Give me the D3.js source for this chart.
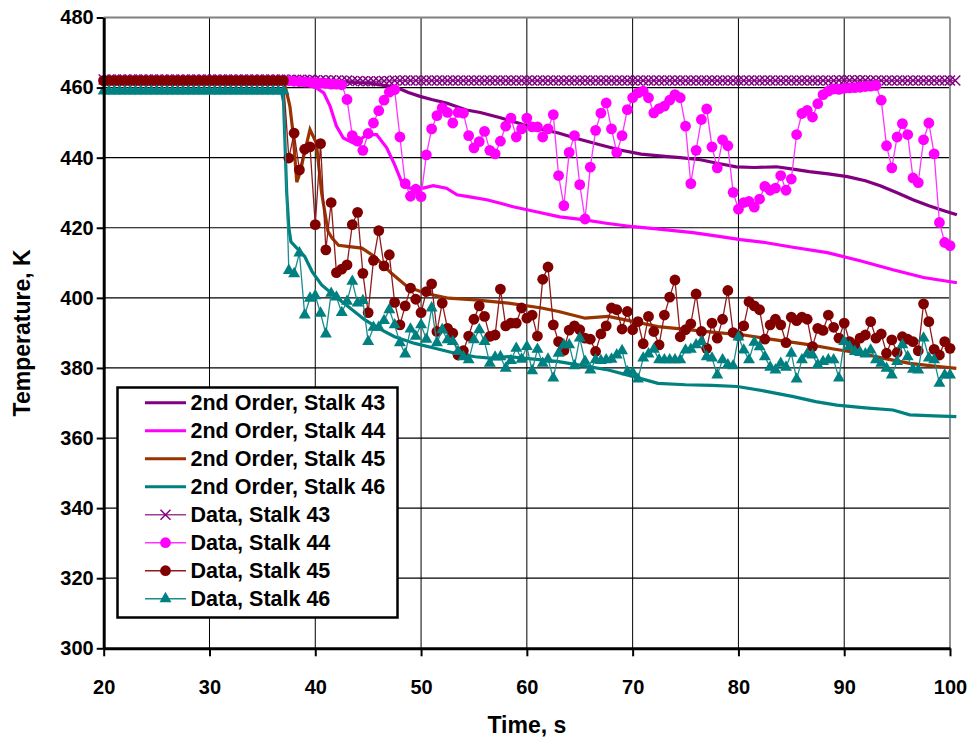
<!DOCTYPE html>
<html>
<head>
<meta charset="utf-8">
<script src="https://cdn.jsdelivr.net/npm/d3@7"></script>
<style>
  body { margin: 0; background: #fff; }
  text { font-family: "Liberation Sans", Arial, sans-serif; font-weight: bold; }
</style>
</head>
<body>
<div id="chart"></div>
<script>
// ---- data ----
const timeTicks = [20, 30, 40, 50, 60, 70, 80, 90, 100];
const tempTicks = [300, 320, 340, 360, 380, 400, 420, 440, 460, 480];

const seriesNames = ["2nd Order, Stalk 43", "2nd Order, Stalk 44", "2nd Order, Stalk 45", "2nd Order, Stalk 46",
  "Data, Stalk 43", "Data, Stalk 44", "Data, Stalk 45", "Data, Stalk 46"];

// 2nd order model curves [time s, temperature K]
const model43 = [[20,462],[37,462],[42,461.8],[45,461.3],[46.5,460.6],[47.7,460],[48.8,458.6],[49.9,457.5],[51,456.6],
  [52.4,455.6],[54.3,453.6],[55.6,452.9],[57.5,451.4],[59.5,449.6],[61,448.3],[62.9,447.1],[64.8,445.4],[66.9,443.7],
  [68.8,442.2],[70.8,441],[73.3,440.3],[74.5,440],[76.4,439.4],[78,438.4],[79.8,437.4],[81.5,437.2],[83.6,437.4],
  [85,436.8],[86.7,436],[88.5,435.4],[90.3,434.6],[92,433.4],[93.4,432],[95,430],[96.5,428],[98,426.3],[99.5,424.8],[100.65,423.7]];
const model44 = [[20,462],[37,462],[38.5,461.5],[39.5,460.5],[40.1,459.9],[40.8,458.5],[41.4,454.7],[42,449],[42.65,445.6],
  [43.6,444.2],[44.3,445.3],[44.9,446.6],[45.8,446.6],[46.75,442.8],[47.5,438],[48.2,432.8],[48.95,431.3],[50.2,431.3],
  [51.15,432],[52.4,431.3],[53.4,429.4],[54.6,428.8],[56.2,428],[57.5,427],[58.7,426],[61,424.5],[63.1,423.1],[65.3,422.3],
  [67.5,421.3],[70.05,420.3],[72.5,419.6],[75.7,418.6],[78,417.6],[80.2,416.6],[82.5,415.8],[85,414.5],[88.4,412.9],
  [91.5,410.6],[94.6,408],[97.5,405.8],[100.65,404.3]];
const model45 = [[20,462],[37,462],[37.3,458.6],[37.6,454.7],[37.9,447],[38.25,433],[38.6,436],[38.9,440.4],[39.5,448],
  [40.1,444.2],[40.6,430],[41.2,419],[41.6,417],[42.2,415],[43.2,414.6],[44.4,414.2],[45.6,411.8],[47.2,407],[48.7,403.2],
  [50.4,401.3],[52.6,399.9],[55.1,399.4],[58.25,398.5],[61.4,397.1],[63,396.1],[65.5,394.2],[67.7,394.7],[70,393.3],
  [72.4,391.8],[75,391],[77.5,390.2],[80.5,389.4],[83.5,388],[86.8,386.6],[89,385.4],[91.5,384.2],[94,382.6],[96.2,381.3],
  [98.5,380.5],[100.6,379.9]];
const model46 = [[20,459],[36.8,459],[37,456],[37.3,430],[37.5,420],[37.7,416],[38.1,414.7],[39,411.8],[39.7,407.5],
  [40.6,403.7],[41.9,400.4],[43.1,397.5],[44.7,393.7],[46,391.3],[47.5,388.9],[49.4,387],[51.3,385.6],[53.2,384.2],
  [55.1,383.2],[56.5,382.8],[58.25,383.2],[61.4,382.3],[63,381.8],[65,380.8],[67.7,379.4],[70,377.6],[72.4,375.6],
  [75,375.2],[77.5,375],[79.9,374.7],[82.5,373.4],[85.2,371.8],[87.3,370.4],[89.3,369.4],[92,368.6],[94.6,368],
  [96.2,366.6],[98.5,366.3],[100.6,366.1]];

// measured data [time s, temperature K]
const data43 = [[20,462.3],[20.5,462.3],[21,462.3],[21.5,462.3],[22,462.3],[22.5,462.3],[23,462.3],[23.5,462.3],[24,462.3],
  [24.5,462.3],[25,462.3],[25.5,462.3],[26,462.3],[26.5,462.3],[27,462.3],[27.5,462.3],[28,462.3],[28.5,462.3],[29,462.3],
  [29.5,462.3],[30,462.3],[30.5,462.3],[31,462.3],[31.5,462.3],[32,462.3],[32.5,462.3],[33,462.3],[33.5,462.3],[34,462.3],
  [34.5,462.3],[35,462.3],[35.5,462.3],[36,462.3],[36.5,462.3],[37,462.3],[37.5,462.2],[38,462.2],[38.5,462.2],[39,462.2],
  [39.5,462.2],[40,462.1],[40.5,462.1],[41,462.1],[41.5,462.1],[42,462],[42.5,462],[43,462],[43.5,461.9],[44,461.9],
  [44.5,461.8],[45,461.8],[45.5,461.8],[46,461.8],[46.5,461.9],[47,461.9],[47.5,462],[48,462],[48.5,462],[49,462],
  [49.5,462],[50,462],[50.5,462],[51,462],[51.5,462],[52,462],[52.5,462],[53,462],[53.5,462],[54,462],[54.5,462],
  [55,462],[55.5,462],[56,462],[56.5,462],[57,462],[57.5,462],[58,462],[58.5,462],[59,462],[59.5,462],[60,462],
  [60.5,462],[61,462],[61.5,462],[62,462],[62.5,462],[63,462],[63.5,462],[64,462],[64.5,462],[65,462],[65.5,462],
  [66,462],[66.5,462],[67,462],[67.5,462],[68,462],[68.5,462],[69,462],[69.5,462],[70,462],[70.5,462],[71,462],
  [71.5,462],[72,462],[72.5,462],[73,462],[73.5,462],[74,462],[74.5,462],[75,462],[75.5,462],[76,462],[76.5,462],
  [77,462],[77.5,462],[78,462],[78.5,462],[79,462],[79.5,462],[80,462],[80.5,462],[81,462],[81.5,462],[82,462],
  [82.5,462],[83,462],[83.5,462],[84,462],[84.5,462],[85,462],[85.5,462],[86,462],[86.5,462],[87,462],[87.5,462],
  [88,462],[88.5,462],[89,462],[89.5,462.1],[90,462.1],[90.5,462.1],[91,462.1],[91.5,462.1],[92,462.1],[92.5,462],
  [93,462],[93.5,462],[94,462],[94.5,462],[95,462],[95.5,462],[96,462],[96.5,462],[97,462],[97.5,462],[98,462],
  [98.5,462],[99,462],[99.5,462],[100,462],[100.5,462]];
const data44 = [[20,462],[20.5,462],[21,462],[21.5,462],[22,462],[22.5,462],[23,462],[23.5,462],[24,462],[24.5,462],
  [25,462],[25.5,462],[26,462],[26.5,462],[27,462],[27.5,462],[28,462],[28.5,462],[29,462],[29.5,462],[30,462],
  [30.5,462],[31,462],[31.5,462],[32,462],[32.5,462],[33,462],[33.5,462],[34,462],[34.5,462],[35,462],[35.5,462],
  [36,462],[36.5,462],[37,462],[37.5,462],[38,461.8],[38.5,461.7],[39,461.6],[39.5,461.5],[40,461.4],[40.5,461.3],
  [41,461.2],[41.5,461],[42,461],[42.5,460.8],[43,456.6],[43.5,446.3],[44,444.7],[44.5,442.1],[45,446.9],[45.5,449.9],
  [46,453.4],[46.5,456.4],[47,458.7],[47.5,459.4],[48,445.9],[48.5,432.6],[49,429],[49.5,431],[50,428.9],[50.5,440.8],
  [51,448.2],[51.5,452],[52,454.2],[52.5,452.9],[53,449.9],[53.5,452.9],[54,452.7],[54.5,446.3],[55,442.8],[55.5,444.6],
  [56,447.5],[56.5,442.1],[57,441.1],[57.5,444.7],[58,449],[58.5,451.3],[59,445.9],[59.5,448.2],[60,451.3],[60.5,448.8],
  [61,448.8],[61.5,445.9],[62,448.2],[62.5,452.3],[63,434.9],[63.5,426.3],[64,441.5],[64.5,446.3],[65,432.3],[65.5,422.5],
  [66,437.3],[66.5,447.8],[67,452.7],[67.5,455.6],[68,448.2],[68.5,441.5],[69,446.3],[69.5,453.7],[70,457.1],[70.5,458.5],
  [71,459],[71.5,457.1],[72,452.8],[72.5,454],[73,454.7],[73.5,456.4],[74,458],[74.5,457.1],[75,449],[75.5,432.6],
  [76,442.1],[76.5,450.9],[77,453.9],[77.5,443.1],[78,437.1],[78.5,445.1],[79,443.4],[79.5,430.1],[80,425.3],[80.5,427.2],
  [81,427.5],[81.5,425.9],[82,428.2],[82.5,431.8],[83,430.7],[83.5,431.3],[84,434.9],[84.5,430.7],[85,433.9],[85.5,446.6],
  [86,452.6],[86.5,453.5],[87,451.6],[87.5,455.4],[88,458],[88.5,459],[89,459.6],[89.5,459.5],[90,459.8],[90.5,459.9],
  [91,460],[91.5,460.1],[92,460.3],[92.5,460.4],[93,460.6],[93.5,456.4],[94,443.4],[94.5,437.1],[95,445.9],[95.5,449.7],
  [96,446.6],[96.5,434.2],[97,432.9],[97.5,445.1],[98,449.9],[98.5,441.1],[99,421.5],[99.5,415.8],[100,414.9]];
const data45 = [[20,462],[20.5,462],[21,462],[21.5,462],[22,462],[22.5,462],[23,462],[23.5,462],[24,462],[24.5,462],
  [25,462],[25.5,462],[26,462],[26.5,462],[27,462],[27.5,462],[28,462],[28.5,462],[29,462],[29.5,462],[30,462],
  [30.5,462],[31,462],[31.5,462],[32,462],[32.5,462],[33,462],[33.5,462],[34,462],[34.5,462],[35,462],[35.5,462],
  [36,462],[36.5,462],[37,462],[37.5,439.9],[38,447],[38.5,436.5],[39,442.4],[39.5,443.1],[40,420.9],[40.5,444],
  [41,413.7],[41.5,427.2],[42,407.2],[42.5,408.2],[43,409.4],[43.5,420.9],[44,424.4],[44.5,407],[45,395.8],[45.5,410.7],
  [46,419.2],[46.5,409.1],[47,412.3],[47.5,398.7],[48,392.3],[48.5,397.7],[49,402.8],[49.5,399.6],[50,395.8],[50.5,401.8],
  [51,404],[51.5,390.4],[52,398.5],[52.5,391.3],[53,389.9],[53.5,383.7],[54,384.9],[54.5,389.1],[55,393.9],[55.5,397.7],
  [56,394.7],[56.5,389],[57,389.4],[57.5,402.5],[58,392],[58.5,392.8],[59,392.8],[59.5,397.1],[60,394.2],[60.5,395.1],
  [61,389.1],[61.5,405.3],[62,408.8],[62.5,392.3],[63,387.5],[63.5,385],[64,390.8],[64.5,392],[65,390.9],[65.5,388.5],
  [66,388.2],[66.5,384.7],[67,389.7],[67.5,392],[68,397.1],[68.5,396.6],[69,391.1],[69.5,396.1],[70,390.9],[70.5,393.2],
  [71,386.9],[71.5,394.7],[72,390.4],[72.5,386.6],[73,395.1],[73.5,400.2],[74,405.1],[74.5,388.9],[75,390.9],[75.5,392.6],
  [76,401.1],[76.5,390.4],[77,385.6],[77.5,392.8],[78,388.5],[78.5,393.9],[79,402.1],[79.5,390.1],[80,389.2],[80.5,392],
  [81,398.9],[81.5,397.7],[82,396.6],[82.5,388.2],[83,392.3],[83.5,393.9],[84,392.3],[84.5,387.2],[85,394.5],[85.5,393.5],
  [86,394.5],[86.5,393.9],[87,386.1],[87.5,391.3],[88,390.7],[88.5,395.1],[89,391.6],[89.5,388.5],[90,392.8],[90.5,387.5],
  [91,386.6],[91.5,388.5],[92,389.4],[92.5,393.2],[93,388.5],[93.5,389.7],[94,384.2],[94.5,388],[95,384.4],[95.5,388.9],
  [96,388.2],[96.5,387.5],[97,384.9],[97.5,398.3],[98,393.2],[98.5,385.3],[99,383.7],[99.5,387.5],[100,385.6]];
const data46 = [[20,459],[20.5,459],[21,459],[21.5,459],[22,459],[22.5,459],[23,459],[23.5,459],[24,459],[24.5,459],
  [25,459],[25.5,459],[26,459],[26.5,459],[27,459],[27.5,459],[28,459],[28.5,459],[29,459],[29.5,459],[30,459],
  [30.5,459],[31,459],[31.5,459],[32,459],[32.5,459],[33,459],[33.5,459],[34,459],[34.5,459],[35,459],[35.5,459],
  [36,459],[36.5,459],[37,459],[37.5,407.8],[38,406.9],[38.5,412.8],[39,395.1],[39.5,399.9],[40,400.6],[40.5,395.6],
  [41,389.7],[41.5,401.3],[42,400.2],[42.5,395.8],[43,399],[43.5,404.7],[44,398.5],[44.5,399.2],[45,387.5],[45.5,391.6],
  [46,391.6],[46.5,393.5],[47,396.6],[47.5,392.3],[48,387.2],[48.5,384],[49,391.1],[49.5,389],[50,392.3],[50.5,388.2],
  [51,397.1],[51.5,387.2],[52,390.9],[52.5,388],[53,387.5],[53.5,384.7],[54,383.2],[54.5,382.3],[55,388],[55.5,390.9],
  [56,387.5],[56.5,381.3],[57,383.1],[57.5,383.2],[58,379.9],[58.5,382.1],[59,385.6],[59.5,382.5],[60,386.1],[60.5,379.2],
  [61,385.3],[61.5,381.3],[62,382.5],[62.5,377.1],[63,384.2],[63.5,386.6],[64,386.6],[64.5,380.6],[65,388.5],[65.5,381.9],
  [66,379.4],[66.5,382.3],[67,382.1],[67.5,382.3],[68,382.5],[68.5,383.7],[69,384.9],[69.5,378.9],[70,378.7],[70.5,376.8],
  [71,382.8],[71.5,384],[72,385.3],[72.5,382.3],[73,382.3],[73.5,382.3],[74,382.3],[74.5,382.3],[75,385.1],[75.5,385.3],
  [76,386.6],[76.5,387.5],[77,383.2],[77.5,382.8],[78,378],[78.5,382.3],[79,380.9],[79.5,380.6],[80,388.8],[80.5,385.1],
  [81,382.3],[81.5,387.3],[82,386],[82.5,383.2],[83,380.2],[83.5,379.4],[84,381.3],[84.5,380.2],[85,384.2],[85.5,376.8],
  [86,382.3],[86.5,384],[87,383.7],[87.5,380.9],[88,381.8],[88.5,382.3],[89,382.3],[89.5,377.1],[90,387.5],[90.5,386.1],
  [91,384.7],[91.5,384.4],[92,384],[92.5,385.1],[93,382.3],[93.5,381.3],[94,379.9],[94.5,378],[95,381.8],[95.5,386.6],
  [96,383.2],[96.5,379.6],[97,379.4],[97.5,388.5],[98,382.8],[98.5,382.3],[99,375.6],[99.5,378],[100,378]];

// ---- styles ----
const width = 971, height = 740;
const plot = { left: 103.7, right: 950, top: 17.5, bottom: 648.3 };
const fontFamily = '"Liberation Sans", Arial, sans-serif';

const modelStyles = [
  { data: model43, color: "#800080" },
  { data: model44, color: "#ff00ff" },
  { data: model45, color: "#993300" },
  { data: model46, color: "#008080" }
];
const dataStyles = [
  { data: data43, color: "#800080", line: "#9b3f9b", marker: "x" },
  { data: data44, color: "#ff00ff", line: "#ff33ff", marker: "circle" },
  { data: data45, color: "#800000", line: "#8e1c1c", marker: "circle" },
  { data: data46, color: "#008080", line: "#1a8c8c", marker: "triangle" }
];

const svg = d3.select("#chart").append("svg")
  .attr("width", width)
  .attr("height", height);

const x = d3.scaleLinear().domain([20, 100]).range([plot.left, plot.right]);
const y = d3.scaleLinear().domain([300, 480]).range([plot.bottom, plot.top]);

// gridlines
svg.append("g").selectAll("line")
  .data(timeTicks.slice(1, -1))
  .join("line")
  .attr("x1", d => x(d)).attr("x2", d => x(d))
  .attr("y1", plot.top).attr("y2", plot.bottom)
  .attr("stroke", "#000").attr("stroke-width", 1);
svg.append("g").selectAll("line")
  .data(tempTicks.slice(1, -1))
  .join("line")
  .attr("x1", plot.left).attr("x2", plot.right)
  .attr("y1", d => y(d)).attr("y2", d => y(d))
  .attr("stroke", "#000").attr("stroke-width", 1.2);

// plot area border (top / right)
svg.append("line")
  .attr("x1", plot.left).attr("x2", plot.right)
  .attr("y1", y(480)).attr("y2", y(480))
  .attr("stroke", "#808080").attr("stroke-width", 2);
svg.append("line")
  .attr("x1", x(100)).attr("x2", x(100))
  .attr("y1", plot.top).attr("y2", plot.bottom)
  .attr("stroke", "#909090").attr("stroke-width", 2);

const line = d3.line().x(d => x(d[0])).y(d => y(d[1]));

// model curves
modelStyles.forEach(s => {
  svg.append("path")
    .datum(s.data)
    .attr("d", line)
    .attr("fill", "none")
    .attr("stroke", s.color)
    .attr("stroke-width", 3.2);
});

function drawMarker(sel, kind, color, scale) {
  const k = scale || 1;
  if (kind === "x") {
    const h = 5 * k;
    sel.append("path")
      .attr("d", `M${-h},${-h}L${h},${h}M${-h},${h}L${h},${-h}`)
      .attr("stroke", color).attr("stroke-width", 1.5).attr("fill", "none");
  } else if (kind === "circle") {
    sel.append("circle").attr("r", 5.4 * k).attr("fill", color);
  } else {
    sel.append("path")
      .attr("d", d3.symbol().type(d3.symbolTriangle).size(62 * k * k)())
      .attr("fill", color);
  }
}

// measured data
dataStyles.forEach(s => {
  svg.append("path")
    .datum(s.data)
    .attr("d", line)
    .attr("fill", "none")
    .attr("stroke", s.line)
    .attr("stroke-width", 1.3);
  const g = svg.append("g");
  s.data.forEach(d => {
    const m = g.append("g").attr("transform", `translate(${x(d[0])},${y(d[1])})`);
    drawMarker(m, s.marker, s.color);
  });
});

// axes
const yAxis = svg.append("g")
  .attr("transform", `translate(${plot.left},0)`)
  .call(d3.axisLeft(y).tickValues(tempTicks).tickSize(7).tickSizeOuter(0).tickPadding(3))
  .attr("font-family", fontFamily).attr("font-size", 20).attr("font-weight", "bold");
yAxis.select(".domain").attr("stroke-width", 3);
yAxis.selectAll(".tick line").attr("stroke-width", 2);

const xAxis = svg.append("g")
  .attr("transform", `translate(0,${plot.bottom})`)
  .call(d3.axisBottom(x).tickValues(timeTicks).tickSize(8).tickSizeOuter(0).tickPadding(24))
  .attr("font-family", fontFamily).attr("font-size", 20).attr("font-weight", "bold");
xAxis.select(".domain").attr("stroke-width", 3);
xAxis.selectAll(".tick line").attr("stroke-width", 2);

// axis titles
svg.append("text")
  .attr("x", (plot.left + plot.right) / 2)
  .attr("y", 733)
  .attr("text-anchor", "middle")
  .attr("font-size", 23)
  .text("Time, s");
svg.append("text")
  .attr("transform", `translate(30,${(plot.top + plot.bottom) / 2}) rotate(-90)`)
  .attr("text-anchor", "middle")
  .attr("font-size", 23)
  .text("Temperature, K");

// legend
const legend = svg.append("g");
legend.append("rect")
  .attr("x", 117.5).attr("y", 387.5)
  .attr("width", 280).attr("height", 230)
  .attr("fill", "#fff").attr("stroke", "#000").attr("stroke-width", 2.5);

seriesNames.forEach((name, i) => {
  const cy = 402.7 + i * 28;
  const isData = i >= 4;
  const st = isData ? dataStyles[i - 4] : modelStyles[i];
  legend.append("line")
    .attr("x1", 145).attr("x2", 186)
    .attr("y1", cy).attr("y2", cy)
    .attr("stroke", isData ? st.line : st.color)
    .attr("stroke-width", isData ? 1.5 : 3);
  if (isData) {
    const m = legend.append("g").attr("transform", `translate(165.5,${cy})`);
    drawMarker(m, st.marker, st.color, 1);
  }
  legend.append("text")
    .attr("x", 190.5).attr("y", cy)
    .attr("dy", "0.36em")
    .attr("font-size", 21.5)
    .text(name);
});
</script>
</body>
</html>
